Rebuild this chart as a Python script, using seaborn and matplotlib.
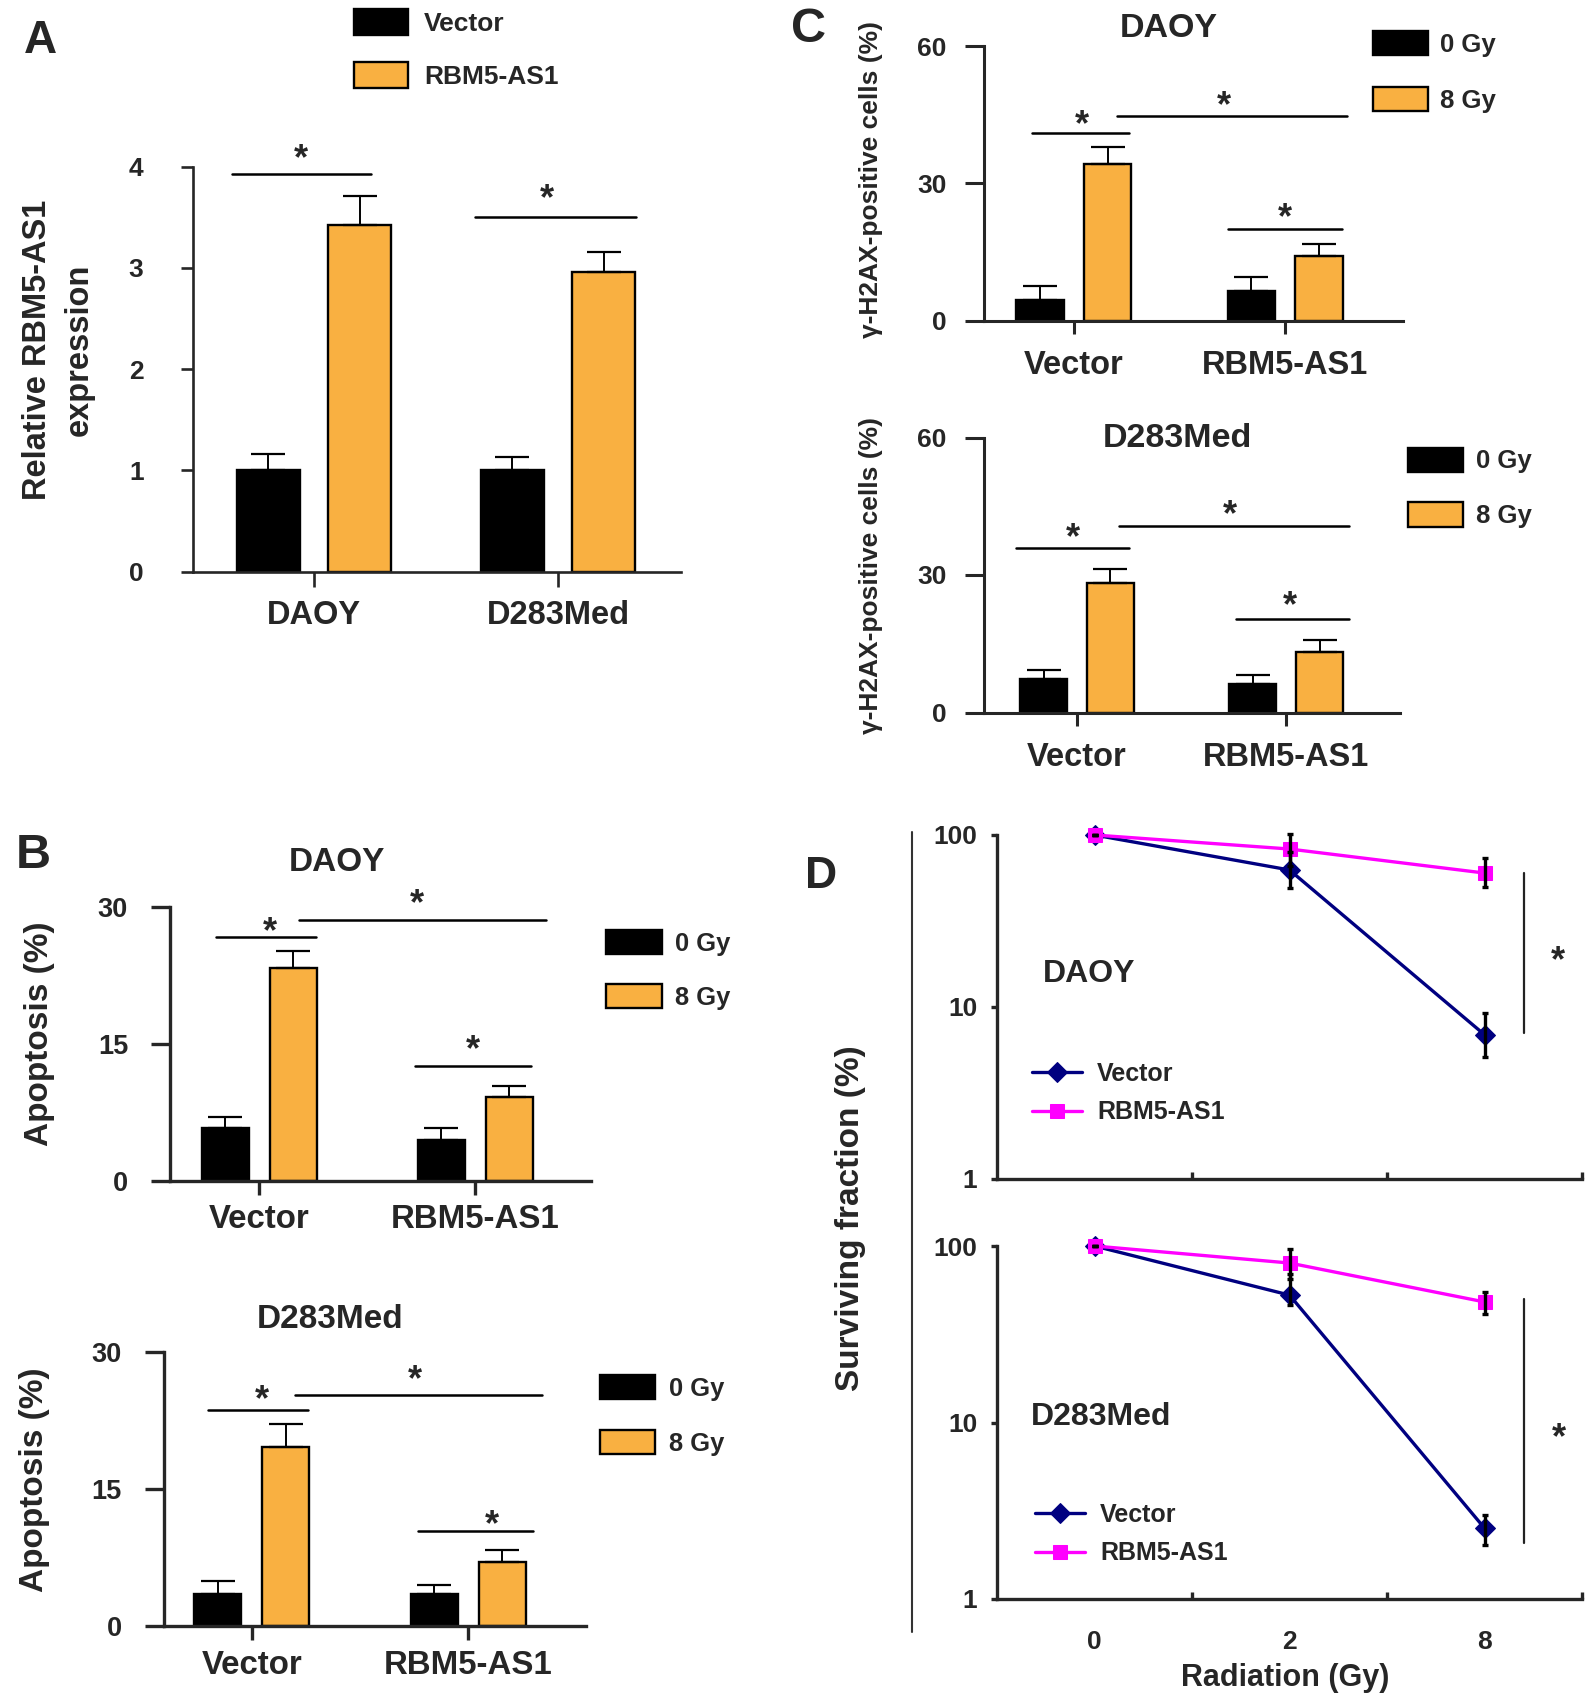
# %%
import numpy as np
import pandas as pd
import matplotlib
matplotlib.use('Agg')
import matplotlib.pyplot as plt
from matplotlib.lines import Line2D
import seaborn as sns

# %%
# valores
cells = ['DAOY', 'D283Med']
constructs = ['Vector', 'RBM5-AS1']
doses_bar = ['0 Gy', '8 Gy']
doses_line = ['0', '2', '8']

# A - expressão relativa de RBM5-AS1
expr_vector = [1.00, 1.00]
expr_rbm = [3.42, 2.96]
expr_vector_sem = [0.16, 0.13]
expr_rbm_sem = [0.29, 0.20]

# B - apoptose (%)
apo_daoy_0gy = [5.75, 4.5]
apo_daoy_8gy = [23.3, 9.15]
apo_daoy_0gy_sem = [1.25, 1.3]
apo_daoy_8gy_sem = [1.9, 1.25]
apo_d283_0gy = [3.5, 3.5]
apo_d283_8gy = [19.6, 7.0]
apo_d283_0gy_sem = [1.4, 1.0]
apo_d283_8gy_sem = [2.45, 1.3]

# C - células gama-H2AX positivas (%)
h2ax_daoy_0gy = [4.5, 6.45]
h2ax_daoy_8gy = [34.2, 14.2]
h2ax_daoy_0gy_sem = [3.0, 3.15]
h2ax_daoy_8gy_sem = [3.8, 2.6]
h2ax_d283_0gy = [7.3, 6.2]
h2ax_d283_8gy = [28.2, 13.3]
h2ax_d283_0gy_sem = [2.0, 2.0]
h2ax_d283_8gy_sem = [3.1, 2.5]

# D - fração de sobrevivência (%)
sf_daoy_vector = [100, 62.6, 6.9]
sf_daoy_rbm = [100, 82.9, 60.1]
sf_daoy_vector_lo = [0, 13.6, 1.8]
sf_daoy_vector_hi = [0, 17.4, 2.3]
sf_daoy_rbm_lo = [0, 16.9, 10.2]
sf_daoy_rbm_hi = [0, 18.0, 13.4]
sf_d283_vector = [100, 52.7, 2.52]
sf_d283_rbm = [100, 80.1, 48.2]
sf_d283_vector_lo = [0, 6.3, 0.5]
sf_d283_vector_hi = [0, 17.0, 0.47]
sf_d283_rbm_lo = [0, 15.0, 7.0]
sf_d283_rbm_hi = [0, 16.0, 6.6]

# %%
sns.set_style('ticks')
plt.rcParams['font.family'] = ['Liberation Sans', 'DejaVu Sans']
plt.rcParams['font.weight'] = 'bold'
plt.rcParams['axes.labelweight'] = 'bold'

ORANGE = '#F9B041'
W, H = 1594, 1704
fig = plt.figure(figsize=(W / 100, H / 100), dpi=100)


def add_ax(left, right, bottom, top):
    # posições em pixels da figura
    return fig.add_axes([left / W, 1 - bottom / H, (right - left) / W, (bottom - top) / H])


def bar_df(x_col, x_vals, hue_col, hue_vals, v1, v2, s1, s2):
    return pd.DataFrame({
        x_col: x_vals * 2,
        hue_col: [hue_vals[0]] * len(x_vals) + [hue_vals[1]] * len(x_vals),
        'value': v1 + v2,
        'sem': s1 + s2,
    })


def draw_bars(ax, df, x_col, hue_col, order, hue_order, width, gap):
    palette = {hue_order[0]: 'black', hue_order[1]: ORANGE}
    sns.barplot(data=df, x=x_col, y='value', hue=hue_col, order=order,
                hue_order=hue_order, palette=palette, width=width, gap=gap,
                saturation=1, edgecolor='black', linewidth=1.7, errorbar=None, ax=ax)
    # barras de erro só para cima (estilo Prism)
    for cont, h in zip(ax.containers, hue_order):
        sub = df[df[hue_col] == h].set_index(x_col)
        for bar, cat in zip(cont, order):
            cx = bar.get_x() + bar.get_width() / 2
            ax.errorbar(cx, bar.get_height(), yerr=[[0], [sub.loc[cat, 'sem']]],
                        fmt='none', ecolor='black', elinewidth=1.4,
                        capsize=12, capthick=1.6, zorder=1)


def style_bars(ax, xlim, ylim, yticks, lw, ytl, ytp, xtl, xtp, yfs, xfs):
    ax.set_xlim(xlim)
    ax.set_ylim(ylim)
    ax.set_yticks(yticks)
    sns.despine(ax=ax)
    for s in ['left', 'bottom']:
        ax.spines[s].set_linewidth(lw)
    ax.tick_params(axis='y', length=ytl, width=lw, pad=ytp, labelsize=yfs)
    ax.tick_params(axis='x', length=xtl, width=lw, pad=xtp, labelsize=xfs)
    ax.set_xlabel('')
    ax.set_ylabel('')


def sig(ax, x0, x1, y, sx, sy, fs=26):
    ax.plot([x0, x1], [y, y], color='black', lw=1.8, clip_on=False)
    ax.annotate('*', (sx, sy), xytext=(0, -0.575 * fs), textcoords='offset points',
                ha='center', va='baseline', fontsize=fs, fontweight='bold',
                annotation_clip=False)


def cap_text(ax, x, y, s, fs, ha='center'):
    ax.annotate(s, (x, y), xytext=(0, -0.358 * fs), textcoords='offset points',
                ha=ha, va='baseline', fontsize=fs, fontweight='bold',
                annotation_clip=False)


def bar_legend(ax, x, y, fs, hw, hh, ls, tp):
    fpx = fs * 100 / 72
    sns.move_legend(ax, 'upper left', bbox_to_anchor=(x / W, 1 - y / H),
                    bbox_transform=fig.transFigure, frameon=False, title=None,
                    fontsize=fs, handlelength=hw / fpx, handleheight=hh / fpx,
                    labelspacing=ls, handletextpad=tp, borderpad=0, borderaxespad=0)
    for hnd in ax.get_legend().legend_handles:
        hnd.set_edgecolor('black')
        hnd.set_linewidth(1.7)


# %%
# A
axA = add_ax(193, 681, 571.7, 166.7)
dfA = bar_df('cell', cells, 'construct', constructs,
             expr_vector, expr_rbm, expr_vector_sem, expr_rbm_sem)
draw_bars(axA, dfA, 'cell', 'construct', cells, constructs, 0.75, 0.31)
style_bars(axA, (-0.496, 1.504), (0, 4), [0, 1, 2, 3, 4], 1.9, 8.6, 27, 10.5, 10, 19, 23.5)
sig(axA, -0.336, 0.232, 3.93, -0.053, 4.18)
sig(axA, 0.66, 1.32, 3.50, 0.955, 3.79)
bar_legend(axA, 354, 9, 19, 54, 30, 1.0, 0.6)
fig.text(58 / W, 1 - 350 / H, 'Relative RBM5-AS1\nexpression', rotation=90,
         ha='center', va='center', fontsize=23.5, fontweight='bold', linespacing=1.45)

# %%
# B
axB1 = add_ax(170, 591, 1180.8, 907.4)
dfB1 = bar_df('construct', constructs, 'dose', doses_bar,
              apo_daoy_0gy, apo_daoy_8gy, apo_daoy_0gy_sem, apo_daoy_8gy_sem)
draw_bars(axB1, dfB1, 'construct', 'dose', constructs, doses_bar, 0.63, 0.31)
style_bars(axB1, (-0.412, 1.535), (0, 30), [0, 15, 30], 2.4, 13.7, 16.5, 10, 7, 19.5, 23.8)
sig(axB1, -0.2, 0.263, 26.8, 0.05, 28.45)
sig(axB1, 0.186, 1.326, 28.6, 0.73, 31.5)
sig(axB1, 0.72, 1.256, 12.6, 0.99, 15.5)
cap_text(axB1, 0.36, 35.3, 'DAOY', 24)
bar_legend(axB1, 606, 930, 18.4, 56, 28, 1.09, 0.49)
fig.text(40 / W, 1 - 1034 / H, 'Apoptosis (%)', rotation=90, ha='center',
         va='center', fontsize=24, fontweight='bold')

axB2 = add_ax(163.6, 586.3, 1626, 1351.6)
dfB2 = bar_df('construct', constructs, 'dose', doses_bar,
              apo_d283_0gy, apo_d283_8gy, apo_d283_0gy_sem, apo_d283_8gy_sem)
draw_bars(axB2, dfB2, 'construct', 'dose', constructs, doses_bar, 0.63, 0.31)
style_bars(axB2, (-0.407, 1.546), (0, 30), [0, 15, 30], 2.4, 13.7, 16.5, 10, 7, 19.5, 23.8)
sig(axB2, -0.2, 0.26, 23.6, 0.047, 25.9)
sig(axB2, 0.2, 1.34, 25.3, 0.756, 28.0)
sig(axB2, 0.77, 1.3, 10.35, 1.11, 12.2)
cap_text(axB2, 0.36, 33.9, 'D283Med', 24)
bar_legend(axB2, 600, 1375, 18.4, 55, 27, 1.15, 0.53)
fig.text(35 / W, 1 - 1479.5 / H, 'Apoptosis (%)', rotation=90, ha='center',
         va='center', fontsize=24, fontweight='bold')

# %%
# C
axC1 = add_ax(984, 1403, 320.5, 46)
dfC1 = bar_df('construct', constructs, 'dose', doses_bar,
              h2ax_daoy_0gy, h2ax_daoy_8gy, h2ax_daoy_0gy_sem, h2ax_daoy_8gy_sem)
draw_bars(axC1, dfC1, 'construct', 'dose', constructs, doses_bar, 0.64, 0.30)
style_bars(axC1, (-0.425, 1.557), (0, 60), [0, 30, 60], 2.2, 14, 13, 9.7, 11.5, 19, 23.5)
sig(axC1, -0.20, 0.26, 41.0, 0.04, 45.1)
sig(axC1, 0.205, 1.29, 44.7, 0.71, 49.3)
sig(axC1, 0.73, 1.27, 20.0, 1.0, 24.7)
cap_text(axC1, 0.45, 64.6, 'DAOY', 24.5)
bar_legend(axC1, 1373, 31, 18.5, 55, 28, 1.15, 0.47)
fig.text(871 / W, 1 - 180 / H, 'γ-H2AX-positive cells (%)', rotation=90,
         ha='center', va='center', fontsize=19, fontweight='bold')

axC2 = add_ax(984, 1400, 712.5, 437.5)
dfC2 = bar_df('construct', constructs, 'dose', doses_bar,
              h2ax_d283_0gy, h2ax_d283_8gy, h2ax_d283_0gy_sem, h2ax_d283_8gy_sem)
draw_bars(axC2, dfC2, 'construct', 'dose', constructs, doses_bar, 0.64, 0.30)
style_bars(axC2, (-0.445, 1.545), (0, 60), [0, 30, 60], 2.2, 14, 13, 9.7, 11.5, 19, 23.5)
sig(axC2, -0.29, 0.25, 35.8, -0.02, 40.4)
sig(axC2, 0.2, 1.3, 40.6, 0.73, 45.3)
sig(axC2, 0.76, 1.3, 20.4, 1.02, 25.6)
cap_text(axC2, 0.48, 60.5, 'D283Med', 24.5)
bar_legend(axC2, 1408, 447.5, 18.5, 55, 27.5, 1.13, 0.5)
fig.text(871 / W, 1 - 575 / H, 'γ-H2AX-positive cells (%)', rotation=90,
         ha='center', va='center', fontsize=19, fontweight='bold')

# %%
# D - curvas de sobrevivência (escala log)
line_colors = {'Vector': '#000080', 'RBM5-AS1': '#FF00FF'}


def draw_survival(ax, vec, rbm, vec_lo, vec_hi, rbm_lo, rbm_hi, show_x):
    df = pd.DataFrame({
        'dose': doses_line * 2,
        'group': [constructs[0]] * 3 + [constructs[1]] * 3,
        'value': vec + rbm,
    })
    ax.set_yscale('log')
    sns.lineplot(data=df, x='dose', y='value', hue='group', style='group',
                 hue_order=constructs, style_order=constructs,
                 markers={'Vector': 'D', 'RBM5-AS1': 's'}, dashes=False,
                 palette=line_colors, linewidth=2.4, markersize=10.5,
                 sort=False, ax=ax)
    for ln in ax.lines:
        ln.set_markeredgecolor(ln.get_color())
        ln.set_clip_on(False)
    xs = np.arange(len(doses_line))
    ax.errorbar(xs, vec, yerr=[vec_lo, vec_hi], fmt='none', ecolor='black',
                elinewidth=2.4, capsize=2, capthick=2.4, zorder=5, clip_on=False)
    ax.errorbar(xs, rbm, yerr=[rbm_lo, rbm_hi], fmt='none', ecolor='black',
                elinewidth=2.4, capsize=2, capthick=2.4, zorder=5, clip_on=False)
    ax.set_xlim(-0.5, 2.5)
    ax.set_ylim(1, 100)
    ax.set_yticks([1, 10, 100], labels=['1', '10', '100'])
    ax.minorticks_off()
    ax.set_xticks(xs, labels=doses_line if show_x else [''] * 3)
    ax.set_xticks([0.5, 1.5, 2.5], minor=True)
    sns.despine(ax=ax)
    for s in ['left', 'bottom']:
        ax.spines[s].set_linewidth(2.4)
    ax.tick_params(axis='y', length=4.3, width=2.4, pad=10, labelsize=19)
    ax.tick_params(axis='x', which='major', length=0, pad=22, labelsize=19)
    ax.tick_params(axis='x', which='minor', direction='in', length=5, width=2.4)
    ax.set_xlabel('')
    ax.set_ylabel('')


def line_legend(ax, x, y):
    sns.move_legend(ax, 'center left', bbox_to_anchor=(x, y), frameon=False,
                    title=None, fontsize=18, handlelength=2.0, handletextpad=0.6,
                    labelspacing=0.58, borderpad=0, borderaxespad=0)
    for hnd in ax.get_legend().legend_handles:
        hnd.set_markeredgecolor(hnd.get_color())
        hnd.set_linewidth(2.4)


axD1 = add_ax(997, 1582, 1179, 835)
draw_survival(axD1, sf_daoy_vector, sf_daoy_rbm, sf_daoy_vector_lo, sf_daoy_vector_hi,
              sf_daoy_rbm_lo, sf_daoy_rbm_hi, False)
axD1.plot([2.2, 2.2], [60.1, 7.06], color='#222222', lw=1.6, clip_on=False)
axD1.annotate('*', (2.375, 21.4), xytext=(0, -0.575 * 26), textcoords='offset points',
              ha='center', va='baseline', fontsize=26, annotation_clip=False)
cap_text(axD1, -0.267, 16.2, 'DAOY', 23, ha='left')
line_legend(axD1, 0.06, 0.25)

axD2 = add_ax(997, 1582, 1599, 1246)
draw_survival(axD2, sf_d283_vector, sf_d283_rbm, sf_d283_vector_lo, sf_d283_vector_hi,
              sf_d283_rbm_lo, sf_d283_rbm_hi, True)
axD2.plot([2.2, 2.2], [50.1, 2.07], color='#222222', lw=1.6, clip_on=False)
axD2.annotate('*', (2.38, 9.4), xytext=(0, -0.575 * 26), textcoords='offset points',
              ha='center', va='baseline', fontsize=26, annotation_clip=False)
cap_text(axD2, -0.328, 11.3, 'D283Med', 23, ha='left')
line_legend(axD2, 0.065, 0.184)

fig.text(850 / W, 1 - 1218 / H, 'Surviving fraction (%)', rotation=90,
         ha='center', va='center', fontsize=24, fontweight='bold')
fig.text(1285 / W, 1 - 1678 / H, 'Radiation (Gy)', ha='center', va='center',
         fontsize=22, fontweight='bold')
fig.add_artist(Line2D([912 / W, 912 / W], [1 - 832 / H, 1 - 1632 / H],
                      color='#333333', lw=1.5))

# %%
# letras dos painéis
for letter, x, y, fs in [('A', 40, 41, 33), ('B', 33, 855, 35),
                         ('C', 809, 30, 35), ('D', 821, 877, 32)]:
    fig.text(x / W, 1 - y / H, letter, ha='center', va='center',
             fontsize=fs, fontweight='bold')

fig.savefig('out.png', dpi=100)
